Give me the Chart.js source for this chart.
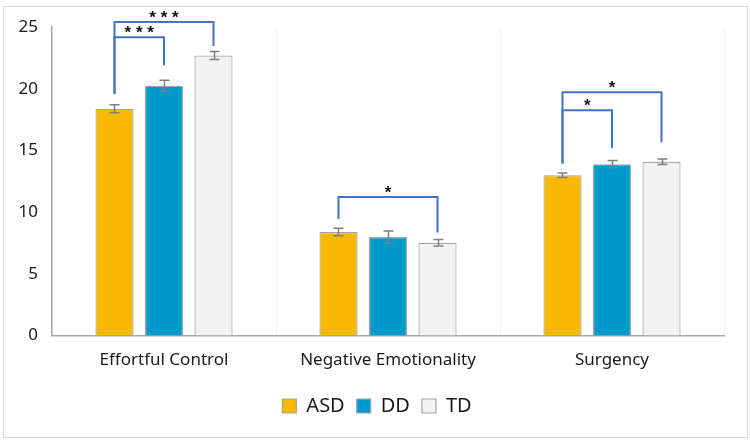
<!DOCTYPE html>
<html>
<head>
<meta charset="utf-8">
<script src="https://cdn.jsdelivr.net/npm/chart.js@4"></script>
<style>
	body { margin: 0; background: #fff; }
	#wrap { position: relative; width: 750px; height: 441px; }
	#frame { position: absolute; left: 3px; top: 6px; width: 743px; height: 430px; border: 1px solid #d9d9d9; pointer-events: none; }
	canvas { position: absolute; left: 0; top: 0; }
</style>
</head>
<body>
<div id="wrap">
	<canvas id="chart" width="750" height="441"></canvas>
	<div id="frame"></div>
</div>
<script>
const categories = ['Effortful Control', 'Negative Emotionality', 'Surgency'];
const groups = ['ASD', 'DD', 'TD'];

const asdValues = [18.38, 8.39, 12.99];
const ddValues = [20.24, 7.98, 13.89];
const tdValues = [22.69, 7.52, 14.08];

const asdErr = [0.33, 0.3, 0.19];
const ddErr = [0.45, 0.5, 0.3];
const tdErr = [0.32, 0.27, 0.22];

const yTicks = [0, 5, 10, 15, 20, 25];

// significance brackets: category, from group, to group, bar height, leg ends, stars
const bracketCat = [0, 0, 1, 2, 2];
const bracketFrom = [0, 0, 0, 0, 0];
const bracketTo = [2, 1, 2, 2, 1];
const bracketTop = [25.41, 24.16, 11.22, 19.72, 18.25];
const bracketFromEnd = [19.6, 19.6, 9.45, 13.94, 13.94];
const bracketToEnd = [23.47, 21.9, 8.36, 15.66, 15.2];
const bracketLabel = ['***', '***', '*', '*', '*'];

const colors = ['#F6B900', '#0099CC', '#F2F2F2'];
const FONT = 'Noto Sans';

const seriesValues = [asdValues, ddValues, tdValues];
const seriesErr = [asdErr, ddErr, tdErr];

function drawErrorBars(chart) {
	const { ctx } = chart;
	const yScale = chart.scales.y;
	ctx.save();
	ctx.strokeStyle = '#7f7f7f';
	ctx.lineWidth = 1.5;
	seriesValues.forEach((values, d) => {
		const meta = chart.getDatasetMeta(d);
		meta.data.forEach((bar, i) => {
			const hi = yScale.getPixelForValue(values[i] + seriesErr[d][i]);
			const lo = yScale.getPixelForValue(values[i] - seriesErr[d][i]);
			const x = Math.round(bar.x) + 0.5;
			ctx.beginPath();
			ctx.moveTo(x, hi);
			ctx.lineTo(x, lo);
			ctx.moveTo(x - 5, hi);
			ctx.lineTo(x + 5, hi);
			ctx.moveTo(x - 5, lo);
			ctx.lineTo(x + 5, lo);
			ctx.stroke();
		});
	});
	ctx.restore();
}

function drawBrackets(chart) {
	const { ctx } = chart;
	const yScale = chart.scales.y;
	ctx.save();
	ctx.strokeStyle = '#4472C4';
	ctx.lineWidth = 2;
	bracketCat.forEach((cat, k) => {
		const x1 = chart.getDatasetMeta(bracketFrom[k]).data[cat].x;
		const x2 = chart.getDatasetMeta(bracketTo[k]).data[cat].x;
		const yTop = yScale.getPixelForValue(bracketTop[k]);
		ctx.beginPath();
		ctx.moveTo(x1, yScale.getPixelForValue(bracketFromEnd[k]));
		ctx.lineTo(x1, yTop);
		ctx.lineTo(x2, yTop);
		ctx.lineTo(x2, yScale.getPixelForValue(bracketToEnd[k]));
		ctx.stroke();

		ctx.fillStyle = '#111';
		ctx.font = `bold 17px 'Liberation Sans'`;
		ctx.textAlign = 'center';
		ctx.textBaseline = 'middle';
		const label = bracketLabel[k].split('').join(' ');
		ctx.fillText(label, (x1 + x2) / 2, yTop - 4);
	});
	ctx.restore();
}

const annotations = {
	id: 'annotations',
	afterLayout(chart) {
		// nudge the legend a bit to the right, like the original
		chart.legend.left += 15;
		chart.legend.right += 15;
	},
	afterDatasetsDraw(chart) {
		drawErrorBars(chart);
		drawBrackets(chart);
	},
};

const config = {
	type: 'bar',
	data: {
		labels: categories,
		datasets: groups.map((name, d) => ({
			label: name,
			data: seriesValues[d],
			backgroundColor: colors[d],
			borderColor: '#a5a5a5',
			borderWidth: 1.2,
			categoryPercentage: 0.663,
			barPercentage: 0.77,
		})),
	},
	options: {
		responsive: false,
		animation: false,
		devicePixelRatio: 1,
		layout: {
			padding: { left: 0, right: 26, top: 27, bottom: 15 },
		},
		scales: {
			x: {
				grid: { color: '#f0f0f0', drawTicks: false, offset: true },
				border: { color: '#a6a6a6', width: 1.5 },
				ticks: {
					color: '#1a1a1a',
					padding: 14,
					font: { family: FONT, size: 17 },
				},
			},
			y: {
				min: 0,
				max: 25,
				afterBuildTicks(scale) {
					scale.ticks = yTicks.map((v) => ({ value: v }));
				},
				afterFit(scale) {
					scale.width = 52;
				},
				grid: { display: false, drawTicks: false },
				border: { color: '#a6a6a6', width: 1.5 },
				ticks: {
					color: '#1a1a1a',
					padding: 14,
					font: { family: FONT, size: 17 },
				},
			},
		},
		plugins: {
			legend: {
				position: 'bottom',
				labels: {
					color: '#1a1a1a',
					boxWidth: 14,
					boxHeight: 14,
					padding: 12,
					font: { family: FONT, size: 20 },
				},
			},
			tooltip: { enabled: false },
		},
	},
	plugins: [annotations],
};

new Chart(document.getElementById('chart'), config);
</script>
</body>
</html>
